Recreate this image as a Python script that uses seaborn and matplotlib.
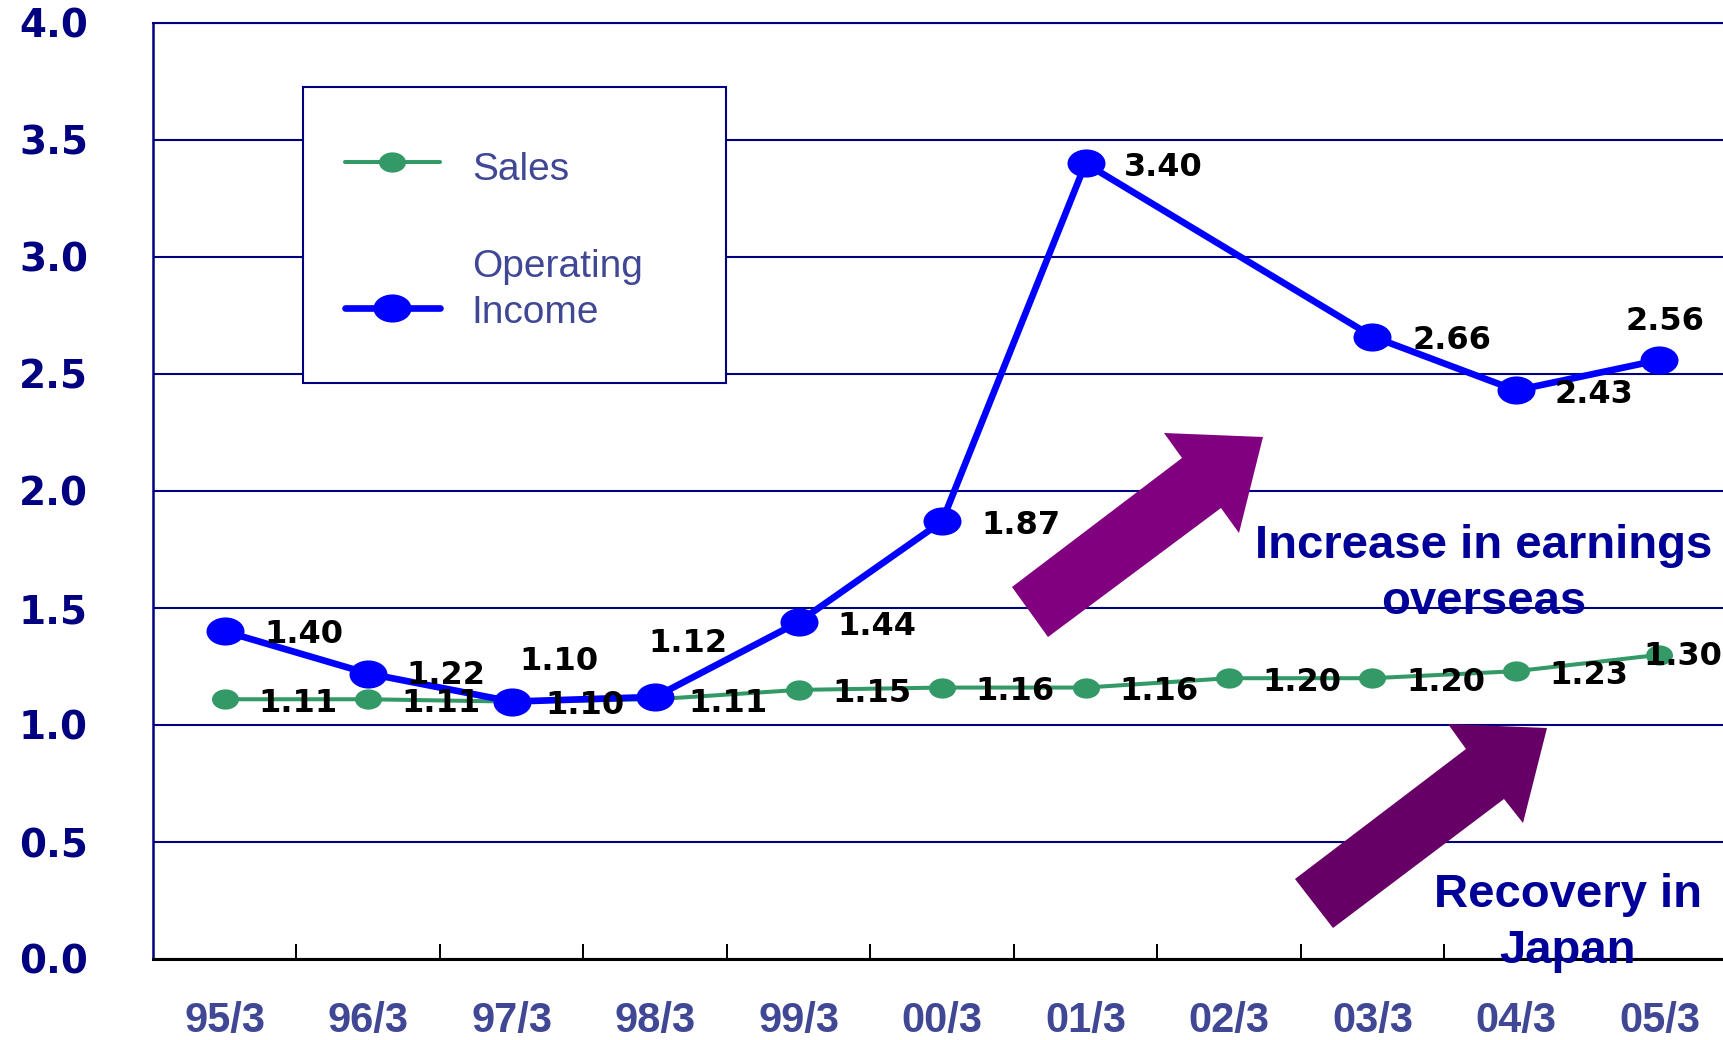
import numpy as np
import pandas as pd
import matplotlib
matplotlib.use("Agg")
import matplotlib.pyplot as plt
import seaborn as sns
from matplotlib.path import Path
from matplotlib.transforms import Affine2D
from matplotlib.patches import Polygon, Rectangle
from matplotlib.legend_handler import HandlerLine2D

# ---------------- data ----------------
periods = ["95/3", "96/3", "97/3", "98/3", "99/3", "00/3",
           "01/3", "02/3", "03/3", "04/3", "05/3"]
sales = [1.11, 1.11, 1.10, 1.11, 1.15, 1.16, 1.16, 1.20, 1.20, 1.23, 1.30]
operating_income = [1.40, 1.22, 1.10, 1.12, 1.44, 1.87, 3.40, np.nan, 2.66, 2.43, 2.56]
y_ticks = [0.0, 0.5, 1.0, 1.5, 2.0, 2.5, 3.0, 3.5, 4.0]
series_names = ["Sales", "Operating\nIncome"]
callouts = ["Increase in earnings\noverseas", "Recovery in\nJapan"]

# ---------------- style / layout ----------------
W, H, DPI = 1724, 1040, 100
PX = 72 / DPI  # points per pixel

NAVY = "#000080"
LABEL_BLUE = "#404896"
CALLOUT_BLUE = "#000099"
GREEN = "#339966"
BLUE = "#0000FF"

# label offsets (pixels) for value labels
sales_off = [(73, -4)] * 10 + [(23, -2)]
op_off = [(79, -3), (78, -2), (47, 40), (33, 53), (78, -4), (79, -4),
          (78, -4), (0, 0), (79, -4), (78, -4), (5, 38)]


class ShiftedLineHandler(HandlerLine2D):
    """Legend line handler with a vertical shift (positive = down)."""
    def __init__(self, dy, **kw):
        super().__init__(**kw)
        self.dy = dy

    def create_artists(self, legend, orig_handle, xdescent, ydescent,
                       width, height, fontsize, trans):
        return super().create_artists(legend, orig_handle, xdescent,
                                      ydescent + self.dy, width, height,
                                      fontsize, trans)


sns.set_style("white")
plt.rcParams["font.family"] = ["Liberation Sans", "DejaVu Sans"]

fig = plt.figure(figsize=(W / DPI, H / DPI), dpi=DPI)
ax = fig.add_axes([153 / W, 81 / H, (W - 153) / W, (959 - 23) / H])

df = pd.DataFrame({"period": periods, "pos": np.arange(len(periods)),
                   "sales": sales, "op": operating_income})

ell_g = Path.unit_circle().transformed(Affine2D().scale(1.0, 0.75))
ell_b = Path.unit_circle().transformed(Affine2D().scale(1.0, 0.74))

sns.lineplot(data=df, x="pos", y="sales", color=GREEN, lw=2.9, marker=ell_g,
             markersize=27 * PX, mew=0, label=series_names[0], ax=ax, zorder=3)
sns.lineplot(data=df.dropna(subset=["op"]), x="pos", y="op", color=BLUE, lw=4.8,
             marker=ell_b, markersize=38 * PX, mew=0, label=series_names[1],
             ax=ax, zorder=4)

ax.set_xlim(-0.5, 10.45)
ax.set_ylim(0, 4)
ax.set_xlabel("")
ax.set_ylabel("")

# y axis
ax.set_yticks(y_ticks)
ax.set_yticklabels([f"{v:.1f}" for v in y_ticks], fontsize=28, fontweight="bold",
                   color=NAVY, family="DejaVu Sans")
ax.tick_params(axis="y", length=0, pad=65 * PX)
ax.yaxis.grid(True, color=NAVY, lw=1.5)
ax.set_axisbelow(True)

# x axis
ax.set_xticks(df["pos"])
ax.set_xticklabels(periods, fontsize=30, fontweight="bold", color=LABEL_BLUE,
                   family=["Liberation Sans Narrow", "Liberation Sans"])
ax.tick_params(axis="x", which="major", length=0, pad=42 * PX)
ax.set_xticks(np.arange(0.5, 10.0, 1.0), minor=True)
ax.tick_params(axis="x", which="minor", bottom=True, direction="in",
               length=15 * PX, width=2 * PX, color="black")

ax.spines["right"].set_visible(False)
ax.spines["top"].set_color(NAVY)
ax.spines["top"].set_linewidth(1.5)
ax.spines["left"].set_color(NAVY)
ax.spines["left"].set_linewidth(1.8)
ax.spines["bottom"].set_color("black")
ax.spines["bottom"].set_linewidth(2.2)

# value labels
for i, v in enumerate(sales):
    dx, dy = sales_off[i]
    ax.annotate(f"{v:.2f}", (df["pos"][i], v), xytext=(dx, dy),
                textcoords="offset pixels", ha="center", va="center",
                fontsize=23, fontweight="bold", family="DejaVu Sans",
                color="black", zorder=6)
for i, v in enumerate(operating_income):
    if np.isnan(v):
        continue
    dx, dy = op_off[i]
    ax.annotate(f"{v:.2f}", (df["pos"][i], v), xytext=(dx, dy),
                textcoords="offset pixels", ha="center", va="center",
                fontsize=23, fontweight="bold", family="DejaVu Sans",
                color="black", zorder=6)

# pixel -> figure transform
pix = Affine2D().scale(1 / W, -1 / H).translate(0, 1) + fig.transFigure

# legend box
box = Rectangle((303, 383), 423, -296, transform=pix, facecolor="white",
                edgecolor=NAVY, lw=1.5, zorder=1, clip_on=False)
ax.add_patch(box)
handles, labels = ax.get_legend_handles_labels()
leg = ax.legend(handles, labels, loc="upper left",
                bbox_to_anchor=(345 / W, 1 - 152 / H),
                bbox_transform=fig.transFigure, frameon=False,
                prop={"family": "Liberation Sans", "size": 28},
                handlelength=2.44, handletextpad=0.82, labelspacing=1.57,
                borderpad=0, borderaxespad=0, labelcolor=LABEL_BLUE,
                handler_map={handles[0]: ShiftedLineHandler(-7.0),
                             handles[1]: ShiftedLineHandler(25.4)})
for t in leg.get_texts():
    t.set_linespacing(1.35)
leg.set_zorder(7)

# arrows
arrow1 = [(1048, 637), (1012, 587), (1182, 458), (1164, 433),
          (1263, 437), (1239, 533), (1221, 508)]
arrow2 = [(1333, 928), (1295, 879), (1466, 749), (1448, 724),
          (1547, 728), (1523, 823), (1504, 799)]
ax.add_patch(Polygon(arrow1, closed=True, transform=pix, facecolor="#800080",
                     edgecolor="none", zorder=2, clip_on=False))
ax.add_patch(Polygon(arrow2, closed=True, transform=pix, facecolor="#660066",
                     edgecolor="none", zorder=2, clip_on=False))

# callout texts
fig.text(1484 / W, 1 - 574 / H, callouts[0], ha="center", va="center",
         fontsize=34, fontweight="bold", color=CALLOUT_BLUE,
         family="Liberation Sans", linespacing=1.38)
fig.text(1568 / W, 1 - 923 / H, callouts[1], ha="center", va="center",
         fontsize=34, fontweight="bold", color=CALLOUT_BLUE,
         family="Liberation Sans", linespacing=1.38)

fig.savefig("out.png", dpi=DPI)
